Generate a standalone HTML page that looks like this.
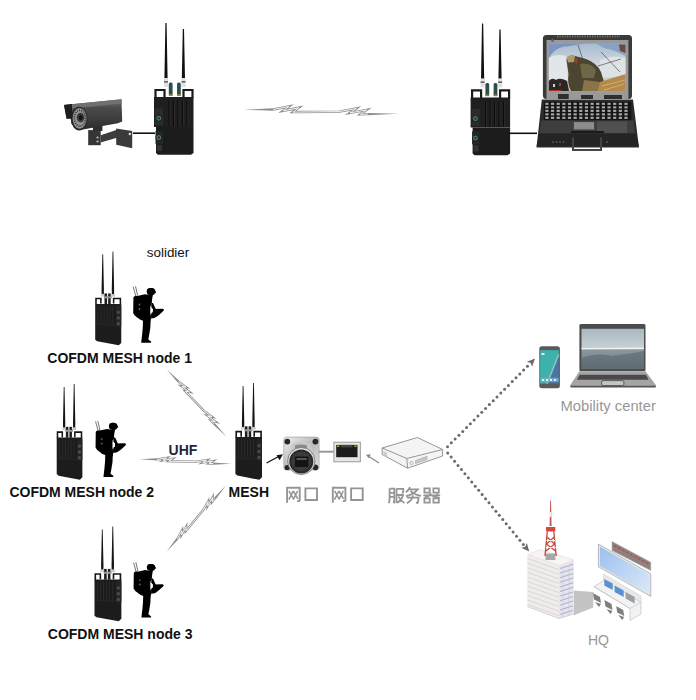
<!DOCTYPE html>
<html><head><meta charset="utf-8">
<style>
html,body{margin:0;padding:0;background:#fff;width:696px;height:700px;overflow:hidden}
svg{display:block}
</style></head><body>
<svg width="696" height="700" viewBox="0 0 696 700">
<rect width="696" height="700" fill="#fff"/>

<defs>
<linearGradient id="camg" x1="0" y1="0" x2="0" y2="1">
<stop offset="0" stop-color="#6e6e6e"/><stop offset="0.3" stop-color="#4a4a4a"/><stop offset="0.7" stop-color="#3a3a3a"/><stop offset="1" stop-color="#2a2a2a"/></linearGradient>
<linearGradient id="flg" x1="0" y1="0" x2="1" y2="1">
<stop offset="0" stop-color="#f2f2f2"/><stop offset="0.5" stop-color="#b8b8b8"/><stop offset="1" stop-color="#e0e0e0"/></linearGradient>
<linearGradient id="skyg" x1="0" y1="0" x2="0" y2="1">
<stop offset="0" stop-color="#a8bcd2"/><stop offset="0.5" stop-color="#d4dade"/><stop offset="1" stop-color="#c8c0a8"/></linearGradient>
<linearGradient id="hqscr" x1="0" y1="0" x2="1" y2="1">
<stop offset="0" stop-color="#9cc0ee"/><stop offset="1" stop-color="#dce8f8"/></linearGradient>
<linearGradient id="lscr" x1="0" y1="0" x2="0" y2="1">
<stop offset="0" stop-color="#a9b9c0"/><stop offset="0.46" stop-color="#c4d0d4"/><stop offset="0.54" stop-color="#8a989e"/><stop offset="1" stop-color="#6a787e"/></linearGradient>
<linearGradient id="phs" x1="0" y1="0" x2="1" y2="1">
<stop offset="0" stop-color="#4fb0a8"/><stop offset="0.5" stop-color="#3f8e9a"/><stop offset="1" stop-color="#3a6a9a"/></linearGradient>
</defs>


<g id="camera">
<path d="M92.9,125 L102.4,124 L102.4,131 L92.9,131 Z" fill="#2e2e2e"/>
<path d="M88.2,130.1 L100.7,130.1 L100.7,145.2 L88.2,145.2 Z" fill="#353535"/>
<path d="M100.7,135.3 L117,129.7 L117,137.8 L100.7,142.6 Z" fill="#3d3d3d"/>
<path d="M116.2,128.4 L132.2,131 L132.2,148.2 L116.2,144.7 Z" fill="#3a3a3a"/>
<circle cx="129.8" cy="134" r="1.2" fill="#e0e0e0"/><circle cx="97.5" cy="137.5" r="1.1" fill="#bbb"/><circle cx="97.5" cy="141.5" r="1.1" fill="#bbb"/>
<path d="M64,104.9 L121.5,99.3 L122.2,121.5 L117.9,123.2 L80,129.9 L71.5,124 L70.7,118.7 L66.6,118.7 Z" fill="url(#camg)"/>
<path d="M64,104.9 L121.5,99.3 L121.8,103.5 L68,109 Z" fill="#707070"/>
<path d="M64,104.9 L72,104 L72,118 L66.6,118.7 Z" fill="#1e1e1e"/>
<ellipse cx="79.2" cy="118.6" rx="8.3" ry="11.9" fill="#242424"/>
<ellipse cx="79.6" cy="118.4" rx="7" ry="10.3" fill="#959595"/>
<ellipse cx="79.9" cy="118.2" rx="5.5" ry="8" fill="none" stroke="#3a3a3a" stroke-width="1.8" stroke-dasharray="1.1 1.1"/>
<ellipse cx="80.5" cy="117.6" rx="3.8" ry="4.8" fill="#3a3a3a"/>
<ellipse cx="80.7" cy="117.5" rx="2" ry="2.6" fill="#141414"/>
</g>
<path d="M133,133.2 L155,133.2" stroke="#111" stroke-width="1.6"/>

<g>
<path d="M165.4,23 L166.6,23 L167.6,79 L164.4,79 Z" fill="#111"/>
<path d="M182.8,29 L184,29 L185,79 L181.8,79 Z" fill="#111"/>
<rect x="164" y="78" width="4" height="9" fill="#e0e0e0"/><rect x="164" y="81" width="4" height="1.6" fill="#666"/>
<rect x="181.5" y="78" width="4" height="9" fill="#e0e0e0"/><rect x="181.5" y="81" width="4" height="1.6" fill="#666"/>
<rect x="168.8" y="82.5" width="3.8" height="13" rx="1.5" fill="#2a5050"/><rect x="168.8" y="94" width="3.8" height="1.8" fill="#8a7a40"/>
<rect x="177" y="82.5" width="3.8" height="13" rx="1.5" fill="#2a5050"/><rect x="177" y="94" width="3.8" height="1.8" fill="#8a7a40"/>
<path d="M155.5,98 L155.5,90 L164.5,90 L164.5,98 M183.5,98 L183.5,90 L192.5,90 L192.5,98" fill="none" stroke="#1a1a1a" stroke-width="2.2"/>
<path d="M154,97 L193.5,97 L193.5,127 L154,127 Z" fill="#1f1f1f"/>
<path d="M156,127 L193.5,127 L193.5,153 L191,154.8 L158,154.8 L156,153 Z" fill="#1c1c1c"/>
<g stroke="#0b0b0b" stroke-width="1.1"><path d="M169,101 V126 M173.5,101 V126 M178,101 V126 M182.5,101 V126 M187,101 V126"/></g>
<g stroke="#3a3a3a" stroke-width="0.5"><path d="M170,101 V126 M174.5,101 V126 M179,101 V126 M183.5,101 V126 M188,101 V126"/></g>
<rect x="155" y="108.5" width="8" height="17" fill="#2c2c2c"/>
<circle cx="158.8" cy="118.2" r="3" fill="#4d7d60" stroke="#161616" stroke-width="0.9"/>
<circle cx="158.8" cy="118.2" r="1.3" fill="#233a2c"/>
<rect x="155.5" y="131" width="7.5" height="13" fill="#262626"/>
<circle cx="158.8" cy="137.6" r="3" fill="#4d7d60" stroke="#161616" stroke-width="0.9"/>
<circle cx="158.8" cy="137.6" r="1.3" fill="#233a2c"/>
<rect x="157" y="145" width="5" height="6" fill="#333"/>
</g>
<g transform="translate(316.6,0.4)">
<path d="M165.4,23 L166.6,23 L167.6,79 L164.4,79 Z" fill="#111"/>
<path d="M182.8,29 L184,29 L185,79 L181.8,79 Z" fill="#111"/>
<rect x="164" y="78" width="4" height="9" fill="#e0e0e0"/><rect x="164" y="81" width="4" height="1.6" fill="#666"/>
<rect x="181.5" y="78" width="4" height="9" fill="#e0e0e0"/><rect x="181.5" y="81" width="4" height="1.6" fill="#666"/>
<rect x="168.8" y="82.5" width="3.8" height="13" rx="1.5" fill="#2a5050"/><rect x="168.8" y="94" width="3.8" height="1.8" fill="#8a7a40"/>
<rect x="177" y="82.5" width="3.8" height="13" rx="1.5" fill="#2a5050"/><rect x="177" y="94" width="3.8" height="1.8" fill="#8a7a40"/>
<path d="M155.5,98 L155.5,90 L164.5,90 L164.5,98 M183.5,98 L183.5,90 L192.5,90 L192.5,98" fill="none" stroke="#1a1a1a" stroke-width="2.2"/>
<path d="M154,97 L193.5,97 L193.5,127 L154,127 Z" fill="#1f1f1f"/>
<path d="M156,127 L193.5,127 L193.5,153 L191,154.8 L158,154.8 L156,153 Z" fill="#1c1c1c"/>
<g stroke="#0b0b0b" stroke-width="1.1"><path d="M169,101 V126 M173.5,101 V126 M178,101 V126 M182.5,101 V126 M187,101 V126"/></g>
<g stroke="#3a3a3a" stroke-width="0.5"><path d="M170,101 V126 M174.5,101 V126 M179,101 V126 M183.5,101 V126 M188,101 V126"/></g>
<rect x="155" y="108.5" width="8" height="17" fill="#2c2c2c"/>
<circle cx="158.8" cy="118.2" r="3" fill="#4d7d60" stroke="#161616" stroke-width="0.9"/>
<circle cx="158.8" cy="118.2" r="1.3" fill="#233a2c"/>
<rect x="155.5" y="131" width="7.5" height="13" fill="#262626"/>
<circle cx="158.8" cy="137.6" r="3" fill="#4d7d60" stroke="#161616" stroke-width="0.9"/>
<circle cx="158.8" cy="137.6" r="1.3" fill="#233a2c"/>
<rect x="157" y="145" width="5" height="6" fill="#333"/>
</g>
<path d="M244.00,109.80 L273.27,108.27 L273.30,110.67 Z M398.22,113.80 L367.37,112.95 L367.40,115.35 Z" fill="#8c8c8c"/><path d="M273.29,109.47 L288.98,106.41 L283.13,110.79 L298.82,107.73 L292.98,112.12 L299.53,112.05 L339.61,111.59 L356.22,108.52 L350.03,112.91 L366.64,109.84 L360.45,114.23 L367.39,114.15" fill="none" stroke="#8c8c8c" stroke-width="2.4" stroke-linejoin="miter" stroke-miterlimit="6"/><path d="M273.29,109.47 L288.98,106.41 L283.13,110.79 L298.82,107.73 L292.98,112.12 L299.53,112.05 L339.61,111.59 L356.22,108.52 L350.03,112.91 L366.64,109.84 L360.45,114.23 L367.39,114.15" fill="none" stroke="#fff" stroke-width="0.9" stroke-linejoin="miter" stroke-miterlimit="6"/>

<path d="M509,133.3 L537,133.3" stroke="#111" stroke-width="1.6"/>
<g id="laptop">
<path d="M541.8,99.5 L633,99.5 L639,147.5 L536.5,147.5 Z" fill="#2c2c2c"/>
<rect x="543.8" y="101.8" width="87.5" height="18.6" fill="#151515"/>
<g fill="#a8a8a8"><rect x="545.30" y="102.80" width="3.2" height="2.1"/><rect x="550.95" y="102.80" width="3.2" height="2.1"/><rect x="556.60" y="102.80" width="3.2" height="2.1"/><rect x="562.25" y="102.80" width="3.2" height="2.1"/><rect x="567.90" y="102.80" width="3.2" height="2.1"/><rect x="573.55" y="102.80" width="3.2" height="2.1"/><rect x="579.20" y="102.80" width="3.2" height="2.1"/><rect x="584.85" y="102.80" width="3.2" height="2.1"/><rect x="590.50" y="102.80" width="3.2" height="2.1"/><rect x="596.15" y="102.80" width="3.2" height="2.1"/><rect x="601.80" y="102.80" width="3.2" height="2.1"/><rect x="607.45" y="102.80" width="3.2" height="2.1"/><rect x="613.10" y="102.80" width="3.2" height="2.1"/><rect x="618.75" y="102.80" width="3.2" height="2.1"/><rect x="624.40" y="102.80" width="3.2" height="2.1"/><rect x="545.30" y="106.30" width="3.2" height="2.1"/><rect x="550.95" y="106.30" width="3.2" height="2.1"/><rect x="556.60" y="106.30" width="3.2" height="2.1"/><rect x="562.25" y="106.30" width="3.2" height="2.1"/><rect x="567.90" y="106.30" width="3.2" height="2.1"/><rect x="573.55" y="106.30" width="3.2" height="2.1"/><rect x="579.20" y="106.30" width="3.2" height="2.1"/><rect x="584.85" y="106.30" width="3.2" height="2.1"/><rect x="590.50" y="106.30" width="3.2" height="2.1"/><rect x="596.15" y="106.30" width="3.2" height="2.1"/><rect x="601.80" y="106.30" width="3.2" height="2.1"/><rect x="607.45" y="106.30" width="3.2" height="2.1"/><rect x="613.10" y="106.30" width="3.2" height="2.1"/><rect x="618.75" y="106.30" width="3.2" height="2.1"/><rect x="624.40" y="106.30" width="3.2" height="2.1"/><rect x="545.30" y="109.80" width="3.2" height="2.1"/><rect x="550.95" y="109.80" width="3.2" height="2.1"/><rect x="556.60" y="109.80" width="3.2" height="2.1"/><rect x="562.25" y="109.80" width="3.2" height="2.1"/><rect x="567.90" y="109.80" width="3.2" height="2.1"/><rect x="573.55" y="109.80" width="3.2" height="2.1"/><rect x="579.20" y="109.80" width="3.2" height="2.1"/><rect x="584.85" y="109.80" width="3.2" height="2.1"/><rect x="590.50" y="109.80" width="3.2" height="2.1"/><rect x="596.15" y="109.80" width="3.2" height="2.1"/><rect x="601.80" y="109.80" width="3.2" height="2.1"/><rect x="607.45" y="109.80" width="3.2" height="2.1"/><rect x="613.10" y="109.80" width="3.2" height="2.1"/><rect x="618.75" y="109.80" width="3.2" height="2.1"/><rect x="624.40" y="109.80" width="3.2" height="2.1"/><rect x="545.30" y="113.30" width="3.2" height="2.1"/><rect x="550.95" y="113.30" width="3.2" height="2.1"/><rect x="556.60" y="113.30" width="3.2" height="2.1"/><rect x="562.25" y="113.30" width="3.2" height="2.1"/><rect x="567.90" y="113.30" width="3.2" height="2.1"/><rect x="573.55" y="113.30" width="3.2" height="2.1"/><rect x="579.20" y="113.30" width="3.2" height="2.1"/><rect x="584.85" y="113.30" width="3.2" height="2.1"/><rect x="590.50" y="113.30" width="3.2" height="2.1"/><rect x="596.15" y="113.30" width="3.2" height="2.1"/><rect x="601.80" y="113.30" width="3.2" height="2.1"/><rect x="607.45" y="113.30" width="3.2" height="2.1"/><rect x="613.10" y="113.30" width="3.2" height="2.1"/><rect x="618.75" y="113.30" width="3.2" height="2.1"/><rect x="624.40" y="113.30" width="3.2" height="2.1"/><rect x="545.30" y="116.80" width="3.2" height="2.1"/><rect x="550.95" y="116.80" width="3.2" height="2.1"/><rect x="556.60" y="116.80" width="3.2" height="2.1"/><rect x="562.25" y="116.80" width="3.2" height="2.1"/><rect x="567.90" y="116.80" width="3.2" height="2.1"/><rect x="573.55" y="116.80" width="3.2" height="2.1"/><rect x="579.20" y="116.80" width="3.2" height="2.1"/><rect x="584.85" y="116.80" width="3.2" height="2.1"/><rect x="590.50" y="116.80" width="3.2" height="2.1"/><rect x="596.15" y="116.80" width="3.2" height="2.1"/><rect x="601.80" y="116.80" width="3.2" height="2.1"/><rect x="607.45" y="116.80" width="3.2" height="2.1"/><rect x="613.10" y="116.80" width="3.2" height="2.1"/><rect x="618.75" y="116.80" width="3.2" height="2.1"/><rect x="624.40" y="116.80" width="3.2" height="2.1"/></g>
<path d="M541.5,120.6 L633.5,120.6 L635,133.5 L539.5,133.5 Z" fill="#3e3e3e"/>
<rect x="597" y="121.5" width="30" height="11.5" fill="#505050"/>
<rect x="573.9" y="122.1" width="20.2" height="7.3" fill="#8c8c8c"/>
<rect x="571" y="131" width="33" height="2" fill="#1a1a1a"/>
<path d="M539.5,133.5 L635,133.5 L639,146.3 L536.5,146.3 Z" fill="#242424"/>
<path d="M573,137.5 L573,150 L601,150 L601,137.5" fill="none" stroke="#444" stroke-width="2"/>
<g fill="#777"><circle cx="553" cy="142" r="0.8"/><circle cx="556.5" cy="142" r="0.8"/><circle cx="560" cy="142" r="0.8"/><circle cx="563.5" cy="142" r="0.8"/><circle cx="607" cy="142" r="0.8"/></g>
<rect x="542.9" y="35" width="89.1" height="64" rx="3.5" fill="#3a3a3a"/>
<rect x="546.5" y="40" width="81.9" height="59" fill="#999"/>
<path d="M557,36.5 L620,36.5" stroke="#777" stroke-width="2" stroke-dasharray="1.2 1.3"/>
<circle cx="552.5" cy="40.5" r="1.5" fill="#666"/>
<rect x="548.9" y="43.6" width="76.6" height="47.5" fill="url(#skyg)"/>
<path d="M548.9,43.6 L585,43.6 Q572,46 562,47 Q553,50 548.9,58 Z" fill="#7896c0"/>
<path d="M596,43.6 L625.5,43.6 L625.5,56 Q615,50 604,48 Z" fill="#86a2c6"/>
<path d="M548.9,58 Q556,53 566,56 L568,80 L548.9,80 Z" fill="#e2e6e8"/>
<path d="M600,60 Q612,54 625.5,58 L625.5,76 L600,78 Z" fill="#dde2e5"/>
<path d="M566.5,60 Q568,55 573,55.5 Q580,57 586,59 Q597,63 601,72 L604,82 L603,91.1 L571,91.1 Q567,84 568.5,74 Z" fill="#4c4532"/>
<path d="M566.8,57.5 Q570,54 575,56 L574,62 L568,62.5 Z" fill="#b09a6c"/>
<path d="M574,60 L578,58 L577,64 Z" fill="#a04030"/>
<path d="M580,64 Q590,62 596,70 L594,78 L582,78 Z" fill="#6e6644"/>
<path d="M584,80 L600,82 L600,91.1 L582,91.1 Z" fill="#8a7448"/>
<path d="M548.9,81 Q552,77 556,80 Q560,77 567,81 L569,91.1 L548.9,91.1 Z" fill="#2a2826"/>
<rect x="553" y="84" width="2" height="3" fill="#d8d0c0"/><rect x="559" y="83" width="2" height="3" fill="#a84030"/>
<path d="M600,82 L625.5,74 L625.5,91.1 L598,91.1 Z" fill="#b48a4a"/>
<path d="M602,86 L625,80 M604,90 L624,84" stroke="#d8b878" stroke-width="0.8"/>
<path d="M601,52 L620,72 M598,66 L621,59 M578,45 L583,60" stroke="#3a3a3a" stroke-width="0.6"/>
<path d="M619,44.5 L625.5,44.5 L625.5,53 L620,51 Z" fill="#6a4a3a"/>
<rect x="548.9" y="90" width="12" height="1.1" fill="#b03030"/>
<rect x="558" y="94" width="10.7" height="5" fill="#2e2e2e"/><rect x="581" y="95" width="12" height="4" fill="#2e2e2e"/><rect x="604" y="95" width="18" height="4" fill="#2e2e2e"/>
</g>


<g font-family="Liberation Sans, sans-serif">
<text x="146.8" y="257.4" font-size="13.4" fill="#111">solidier</text>
<text font-weight="bold" x="47.3" y="363.3" font-size="14" fill="#111">COFDM MESH node 1</text>
<text font-weight="bold" x="9.4" y="497.4" font-size="14" fill="#111">COFDM MESH node 2</text>
<text font-weight="bold" x="47.8" y="639.2" font-size="14" fill="#111">COFDM MESH node 3</text>
<text font-weight="bold" x="168.6" y="455" font-size="14" fill="#25253a">UHF</text>
<text font-weight="bold" x="228.6" y="497" font-size="14" fill="#111">MESH</text>
<text x="560.5" y="410.6" font-size="14.8" fill="#979797">Mobility center</text>
<text x="588" y="644.6" font-size="14" fill="#979797">HQ</text>
</g>

<g transform="translate(95.2,297.8) scale(0.98,0.97)">
<path d="M7.3,-44.8 L8.1,-44.8 L8.9,-8 L8.8,-3.5 L6.6,-3.5 L6.5,-8 Z" fill="#151515"/>
<path d="M17.7,-47.8 L18.5,-47.8 L19.3,-8 L19.2,-3.5 L17,-3.5 L16.9,-8 Z" fill="#151515"/>
<rect x="5.8" y="-3.8" width="4" height="2.6" fill="#d0d0d0"/>
<rect x="16.2" y="-3.8" width="4" height="2.6" fill="#c8c8c8"/>
<rect x="9.5" y="-4.5" width="2.6" height="11" fill="#1e1e1e"/>
<rect x="13.2" y="-4.5" width="2.6" height="11" fill="#1e1e1e"/>
<rect x="9" y="-1.5" width="8" height="2" fill="#9a9a9a"/>
<path d="M0.8,7 L0.8,0.8 L5.8,0.8 L5.8,6 M18.8,6 L18.8,0.8 L25.7,0.8 L25.7,7" fill="none" stroke="#161616" stroke-width="1.6"/>
<path d="M0,6.3 L26.6,6.3 L26.6,46.5 L24,49 L2,44.8 L0,43.2 Z" fill="#1c1c1c"/>
<rect x="21.2" y="8" width="5.4" height="21" fill="#242424"/>
<circle cx="23.6" cy="15" r="1.8" fill="#4a4a4a"/><circle cx="23.6" cy="20.8" r="1.8" fill="#4a4a4a"/><circle cx="23.6" cy="26.8" r="1.8" fill="#4a4a4a"/>
<g stroke="#303030" stroke-width="0.7"><path d="M3,9 V27 M6,9 V27 M9,9 V27 M12,9 V27 M15,9 V27 M18,9 V27"/></g>
<path d="M0.2,27.5 L21,28.5 L26.6,30.5" fill="none" stroke="#2e2e2e" stroke-width="0.6"/>
</g>
<g transform="translate(56.7,431.3) scale(0.965,0.99)">
<path d="M7.3,-44.8 L8.1,-44.8 L8.9,-8 L8.8,-3.5 L6.6,-3.5 L6.5,-8 Z" fill="#151515"/>
<path d="M17.7,-47.8 L18.5,-47.8 L19.3,-8 L19.2,-3.5 L17,-3.5 L16.9,-8 Z" fill="#151515"/>
<rect x="5.8" y="-3.8" width="4" height="2.6" fill="#d0d0d0"/>
<rect x="16.2" y="-3.8" width="4" height="2.6" fill="#c8c8c8"/>
<rect x="9.5" y="-4.5" width="2.6" height="11" fill="#1e1e1e"/>
<rect x="13.2" y="-4.5" width="2.6" height="11" fill="#1e1e1e"/>
<rect x="9" y="-1.5" width="8" height="2" fill="#9a9a9a"/>
<path d="M0.8,7 L0.8,0.8 L5.8,0.8 L5.8,6 M18.8,6 L18.8,0.8 L25.7,0.8 L25.7,7" fill="none" stroke="#161616" stroke-width="1.6"/>
<path d="M0,6.3 L26.6,6.3 L26.6,46.5 L24,49 L2,44.8 L0,43.2 Z" fill="#1c1c1c"/>
<rect x="21.2" y="8" width="5.4" height="21" fill="#242424"/>
<circle cx="23.6" cy="15" r="1.8" fill="#4a4a4a"/><circle cx="23.6" cy="20.8" r="1.8" fill="#4a4a4a"/><circle cx="23.6" cy="26.8" r="1.8" fill="#4a4a4a"/>
<g stroke="#303030" stroke-width="0.7"><path d="M3,9 V27 M6,9 V27 M9,9 V27 M12,9 V27 M15,9 V27 M18,9 V27"/></g>
<path d="M0.2,27.5 L21,28.5 L26.6,30.5" fill="none" stroke="#2e2e2e" stroke-width="0.6"/>
</g>
<g transform="translate(235.4,430.8) scale(1.0,1.0)">
<path d="M7.3,-44.8 L8.1,-44.8 L8.9,-8 L8.8,-3.5 L6.6,-3.5 L6.5,-8 Z" fill="#151515"/>
<path d="M17.7,-47.8 L18.5,-47.8 L19.3,-8 L19.2,-3.5 L17,-3.5 L16.9,-8 Z" fill="#151515"/>
<rect x="5.8" y="-3.8" width="4" height="2.6" fill="#d0d0d0"/>
<rect x="16.2" y="-3.8" width="4" height="2.6" fill="#c8c8c8"/>
<rect x="9.5" y="-4.5" width="2.6" height="11" fill="#1e1e1e"/>
<rect x="13.2" y="-4.5" width="2.6" height="11" fill="#1e1e1e"/>
<rect x="9" y="-1.5" width="8" height="2" fill="#9a9a9a"/>
<path d="M0.8,7 L0.8,0.8 L5.8,0.8 L5.8,6 M18.8,6 L18.8,0.8 L25.7,0.8 L25.7,7" fill="none" stroke="#161616" stroke-width="1.6"/>
<path d="M0,6.3 L26.6,6.3 L26.6,46.5 L24,49 L2,44.8 L0,43.2 Z" fill="#1c1c1c"/>
<rect x="21.2" y="8" width="5.4" height="21" fill="#242424"/>
<circle cx="23.6" cy="15" r="1.8" fill="#4a4a4a"/><circle cx="23.6" cy="20.8" r="1.8" fill="#4a4a4a"/><circle cx="23.6" cy="26.8" r="1.8" fill="#4a4a4a"/>
<g stroke="#303030" stroke-width="0.7"><path d="M3,9 V27 M6,9 V27 M9,9 V27 M12,9 V27 M15,9 V27 M18,9 V27"/></g>
<path d="M0.2,27.5 L21,28.5 L26.6,30.5" fill="none" stroke="#2e2e2e" stroke-width="0.6"/>
</g>
<g transform="translate(94.5,573.3) scale(1.01,0.98)">
<path d="M7.3,-44.8 L8.1,-44.8 L8.9,-8 L8.8,-3.5 L6.6,-3.5 L6.5,-8 Z" fill="#151515"/>
<path d="M17.7,-47.8 L18.5,-47.8 L19.3,-8 L19.2,-3.5 L17,-3.5 L16.9,-8 Z" fill="#151515"/>
<rect x="5.8" y="-3.8" width="4" height="2.6" fill="#d0d0d0"/>
<rect x="16.2" y="-3.8" width="4" height="2.6" fill="#c8c8c8"/>
<rect x="9.5" y="-4.5" width="2.6" height="11" fill="#1e1e1e"/>
<rect x="13.2" y="-4.5" width="2.6" height="11" fill="#1e1e1e"/>
<rect x="9" y="-1.5" width="8" height="2" fill="#9a9a9a"/>
<path d="M0.8,7 L0.8,0.8 L5.8,0.8 L5.8,6 M18.8,6 L18.8,0.8 L25.7,0.8 L25.7,7" fill="none" stroke="#161616" stroke-width="1.6"/>
<path d="M0,6.3 L26.6,6.3 L26.6,46.5 L24,49 L2,44.8 L0,43.2 Z" fill="#1c1c1c"/>
<rect x="21.2" y="8" width="5.4" height="21" fill="#242424"/>
<circle cx="23.6" cy="15" r="1.8" fill="#4a4a4a"/><circle cx="23.6" cy="20.8" r="1.8" fill="#4a4a4a"/><circle cx="23.6" cy="26.8" r="1.8" fill="#4a4a4a"/>
<g stroke="#303030" stroke-width="0.7"><path d="M3,9 V27 M6,9 V27 M9,9 V27 M12,9 V27 M15,9 V27 M18,9 V27"/></g>
<path d="M0.2,27.5 L21,28.5 L26.6,30.5" fill="none" stroke="#2e2e2e" stroke-width="0.6"/>
</g>
<g transform="translate(128,282) scale(1.0)">
<path d="M5.2,4.7 L7.8,14.2 M7.5,4.2 L9.6,13.4" stroke="#6e6e6e" stroke-width="0.95" fill="none"/>
<path d="M5.4,15.5 Q5.6,14 7.5,13.9 L10.4,13.7 L17,12.3 L20,12.8 L25,12.8 L24.2,16.5 L23.6,22.6 L22.4,24 L22.3,31 L22.6,33 L24,35.5 L22.6,39.6 L22.3,46 L21.2,52.8 L20.3,57.5 L23.1,59.6 L23.1,60.8 L13.2,60.8 L13.6,57 L14.2,52 L14.8,45 L15,38.7 L12,37.5 L10.4,36.3 Q6,33.5 5.2,31 Z" fill="#000"/>
<ellipse cx="23" cy="9.7" rx="4.3" ry="3.6" fill="#000"/>
<path d="M19,7.2 Q22.5,5.2 26,6.8 L28.3,10.8 L24,11.2 Z" fill="#000"/>
<path d="M23.6,21 L25,21 L28.2,28 L26.5,29.5 L23.2,25 Z" fill="#000"/>
<path d="M25.2,27 L34.9,26.7 Q36.3,27.3 35.8,28.6 L31,33 L27.4,35.6 L24.5,36.5 L22.6,33.5 Z" fill="#000"/>
<path d="M22.7,25 L24.6,27 L25,30.3 L22.8,30.8 Z" fill="#fff" opacity="0.9"/>
<path d="M22.9,36.4 L25,37 L24.4,39.6 L22.8,39.3 Z" fill="#fff" opacity="0.85"/>
<circle cx="11.5" cy="22.5" r="0.9" fill="#666"/><circle cx="11.5" cy="27" r="0.9" fill="#666"/>
</g>
<g transform="translate(90.4,416.8) scale(0.99)">
<path d="M5.2,4.7 L7.8,14.2 M7.5,4.2 L9.6,13.4" stroke="#6e6e6e" stroke-width="0.95" fill="none"/>
<path d="M5.4,15.5 Q5.6,14 7.5,13.9 L10.4,13.7 L17,12.3 L20,12.8 L25,12.8 L24.2,16.5 L23.6,22.6 L22.4,24 L22.3,31 L22.6,33 L24,35.5 L22.6,39.6 L22.3,46 L21.2,52.8 L20.3,57.5 L23.1,59.6 L23.1,60.8 L13.2,60.8 L13.6,57 L14.2,52 L14.8,45 L15,38.7 L12,37.5 L10.4,36.3 Q6,33.5 5.2,31 Z" fill="#000"/>
<ellipse cx="23" cy="9.7" rx="4.3" ry="3.6" fill="#000"/>
<path d="M19,7.2 Q22.5,5.2 26,6.8 L28.3,10.8 L24,11.2 Z" fill="#000"/>
<path d="M23.6,21 L25,21 L28.2,28 L26.5,29.5 L23.2,25 Z" fill="#000"/>
<path d="M25.2,27 L34.9,26.7 Q36.3,27.3 35.8,28.6 L31,33 L27.4,35.6 L24.5,36.5 L22.6,33.5 Z" fill="#000"/>
<path d="M22.7,25 L24.6,27 L25,30.3 L22.8,30.8 Z" fill="#fff" opacity="0.9"/>
<path d="M22.9,36.4 L25,37 L24.4,39.6 L22.8,39.3 Z" fill="#fff" opacity="0.85"/>
<circle cx="11.5" cy="22.5" r="0.9" fill="#666"/><circle cx="11.5" cy="27" r="0.9" fill="#666"/>
</g>
<g transform="translate(128.5,558) scale(0.98)">
<path d="M5.2,4.7 L7.8,14.2 M7.5,4.2 L9.6,13.4" stroke="#6e6e6e" stroke-width="0.95" fill="none"/>
<path d="M5.4,15.5 Q5.6,14 7.5,13.9 L10.4,13.7 L17,12.3 L20,12.8 L25,12.8 L24.2,16.5 L23.6,22.6 L22.4,24 L22.3,31 L22.6,33 L24,35.5 L22.6,39.6 L22.3,46 L21.2,52.8 L20.3,57.5 L23.1,59.6 L23.1,60.8 L13.2,60.8 L13.6,57 L14.2,52 L14.8,45 L15,38.7 L12,37.5 L10.4,36.3 Q6,33.5 5.2,31 Z" fill="#000"/>
<ellipse cx="23" cy="9.7" rx="4.3" ry="3.6" fill="#000"/>
<path d="M19,7.2 Q22.5,5.2 26,6.8 L28.3,10.8 L24,11.2 Z" fill="#000"/>
<path d="M23.6,21 L25,21 L28.2,28 L26.5,29.5 L23.2,25 Z" fill="#000"/>
<path d="M25.2,27 L34.9,26.7 Q36.3,27.3 35.8,28.6 L31,33 L27.4,35.6 L24.5,36.5 L22.6,33.5 Z" fill="#000"/>
<path d="M22.7,25 L24.6,27 L25,30.3 L22.8,30.8 Z" fill="#fff" opacity="0.9"/>
<path d="M22.9,36.4 L25,37 L24.4,39.6 L22.8,39.3 Z" fill="#fff" opacity="0.85"/>
<circle cx="11.5" cy="22.5" r="0.9" fill="#666"/><circle cx="11.5" cy="27" r="0.9" fill="#666"/>
</g>
<path d="M166.70,369.30 L179.30,380.92 L177.71,382.44 Z M226.38,436.79 L214.76,423.00 L213.17,424.52 Z" fill="#8c8c8c"/><path d="M178.50,381.68 L186.05,387.17 L181.85,386.42 L189.41,391.91 L185.21,391.15 L187.85,393.92 L204.00,410.87 L211.92,416.75 L207.58,415.85 L215.51,421.73 L211.17,420.82 L213.96,423.76" fill="none" stroke="#8c8c8c" stroke-width="2.2" stroke-linejoin="miter" stroke-miterlimit="6"/><path d="M178.50,381.68 L186.05,387.17 L181.85,386.42 L189.41,391.91 L185.21,391.15 L187.85,393.92 L204.00,410.87 L211.92,416.75 L207.58,415.85 L215.51,421.73 L211.17,420.82 L213.96,423.76" fill="none" stroke="#fff" stroke-width="0.9" stroke-linejoin="miter" stroke-miterlimit="6"/>
<path d="M139.70,459.20 L157.15,458.34 L157.12,460.54 Z M231.42,463.80 L213.08,462.46 L213.05,464.65 Z" fill="#8c8c8c"/><path d="M157.14,459.44 L166.52,457.88 L162.97,460.36 L172.36,458.80 L168.81,461.27 L172.71,461.33 L196.57,461.65 L206.51,460.11 L202.76,462.58 L212.69,461.03 L208.94,463.50 L213.07,463.56" fill="none" stroke="#8c8c8c" stroke-width="2.2" stroke-linejoin="miter" stroke-miterlimit="6"/><path d="M157.14,459.44 L166.52,457.88 L162.97,460.36 L172.36,458.80 L168.81,461.27 L172.71,461.33 L196.57,461.65 L206.51,460.11 L202.76,462.58 L212.69,461.03 L208.94,463.50 L213.07,463.56" fill="none" stroke="#fff" stroke-width="0.9" stroke-linejoin="miter" stroke-miterlimit="6"/>
<path d="M166.50,551.80 L176.50,537.98 L178.20,539.38 Z M226.18,484.90 L213.92,498.01 L215.61,499.41 Z" fill="#8c8c8c"/><path d="M177.35,538.68 L181.88,530.57 L181.63,534.82 L186.16,526.70 L185.92,530.95 L188.35,528.02 L203.19,510.07 L208.06,501.54 L207.69,505.94 L212.56,497.42 L212.19,501.82 L214.76,498.71" fill="none" stroke="#8c8c8c" stroke-width="2.2" stroke-linejoin="miter" stroke-miterlimit="6"/><path d="M177.35,538.68 L181.88,530.57 L181.63,534.82 L186.16,526.70 L185.92,530.95 L188.35,528.02 L203.19,510.07 L208.06,501.54 L207.69,505.94 L212.56,497.42 L212.19,501.82 L214.76,498.71" fill="none" stroke="#fff" stroke-width="0.9" stroke-linejoin="miter" stroke-miterlimit="6"/>

<path d="M266.6,463 L280,455.8" stroke="#111" stroke-width="1.3"/>
<path d="M283,454.3 L276.5,455.2 L279.6,460.2 Z" fill="#111"/>
<path d="M379,463 L368.5,456.3" stroke="#888" stroke-width="1.1"/>
<path d="M366,454.8 L370.8,454.2 L368.6,458.2 Z" fill="#888"/>


<rect x="283.8" y="437.1" width="35.3" height="33" rx="2.5" fill="url(#flg)" stroke="#a0a0a0" stroke-width="0.7"/>
<circle cx="287.3" cy="441.6" r="2.9" fill="#262626"/><circle cx="315.4" cy="441.6" r="2.9" fill="#262626"/>
<circle cx="315.4" cy="467.3" r="2.9" fill="#262626"/><circle cx="287.2" cy="467.5" r="2.6" fill="#262626"/>
<path d="M292,444 Q301,440 311,444 L312,452 L291,452 Z" fill="#c8c8c8"/>
<path d="M295,445.5 Q301,443.5 307,445.5 L307,449 L295,449 Z" fill="#8a8a8a"/>
<circle cx="301.3" cy="461" r="13.6" fill="#e2e2e2" stroke="#777" stroke-width="0.9"/>
<circle cx="301.3" cy="461.4" r="12" fill="#2a2a2a"/>
<circle cx="301.3" cy="461.4" r="10" fill="#3a3a3a"/>
<rect x="294.8" y="456.5" width="13.6" height="10.4" rx="1" fill="#141414"/>
<rect x="296.5" y="458" width="10.2" height="2" fill="#555"/>
<path d="M319,451.7 L334,451.7" stroke="#9a9a9a" stroke-width="2"/>
<rect x="333.9" y="442.3" width="26.5" height="19.4" fill="#e6e6e6" stroke="#a8a8a8" stroke-width="1.2"/>
<rect x="336.2" y="444.9" width="21.3" height="12.3" fill="#1c1c1c"/>
<rect x="341" y="444.9" width="11.6" height="2.5" fill="#454545"/>
<rect x="337" y="445.5" width="2.4" height="1.4" fill="#8ac23c"/><rect x="354.3" y="445.5" width="2.4" height="1.4" fill="#8ac23c"/>


<path d="M382.2,448 L417.4,437.5 L442.6,449.5 L442.6,456 L407.6,468.2 L382.2,454.5 Z" fill="#f4f4f4" stroke="#8a8a8a" stroke-width="0.9" stroke-linejoin="round"/>
<path d="M382.2,448 L406.8,458.5 L442.6,449.5 M406.8,458.5 L407.6,468.2" fill="none" stroke="#8a8a8a" stroke-width="0.9"/>
<path d="M383.5,451 L387,452.8 L387,457 L383.5,455 Z" fill="#ccc"/>
<circle cx="411.5" cy="463" r="1.6" fill="none" stroke="#999" stroke-width="0.7"/>
<path d="M415.5,460.5 L427,456.3 L427,459.6 L415.5,463.6 Z" fill="#c8c8c8" stroke="#999" stroke-width="0.5"/>

<g fill="#6a6a6a"><circle cx="447.50" cy="446.70" r="1.5"/><circle cx="451.31" cy="442.87" r="1.5"/><circle cx="455.11" cy="439.04" r="1.5"/><circle cx="458.92" cy="435.21" r="1.5"/><circle cx="462.73" cy="431.38" r="1.5"/><circle cx="466.54" cy="427.55" r="1.5"/><circle cx="470.34" cy="423.72" r="1.5"/><circle cx="474.15" cy="419.90" r="1.5"/><circle cx="477.96" cy="416.07" r="1.5"/><circle cx="481.77" cy="412.24" r="1.5"/><circle cx="485.57" cy="408.41" r="1.5"/><circle cx="489.38" cy="404.58" r="1.5"/><circle cx="493.19" cy="400.75" r="1.5"/><circle cx="497.00" cy="396.92" r="1.5"/><circle cx="500.80" cy="393.09" r="1.5"/><circle cx="504.61" cy="389.26" r="1.5"/><circle cx="508.42" cy="385.43" r="1.5"/><circle cx="512.23" cy="381.60" r="1.5"/><circle cx="516.03" cy="377.77" r="1.5"/><circle cx="519.84" cy="373.94" r="1.5"/><circle cx="523.65" cy="370.12" r="1.5"/><circle cx="527.46" cy="366.29" r="1.5"/><path d="M535.10,358.60 L532.01,366.81 L530.73,363.00 L526.91,361.73 Z"/></g>
<g fill="#6a6a6a"><circle cx="447.70" cy="452.90" r="1.5"/><circle cx="451.14" cy="457.06" r="1.5"/><circle cx="454.58" cy="461.22" r="1.5"/><circle cx="458.02" cy="465.39" r="1.5"/><circle cx="461.46" cy="469.55" r="1.5"/><circle cx="464.90" cy="473.71" r="1.5"/><circle cx="468.34" cy="477.87" r="1.5"/><circle cx="471.78" cy="482.04" r="1.5"/><circle cx="475.22" cy="486.20" r="1.5"/><circle cx="478.66" cy="490.36" r="1.5"/><circle cx="482.10" cy="494.52" r="1.5"/><circle cx="485.54" cy="498.68" r="1.5"/><circle cx="488.98" cy="502.85" r="1.5"/><circle cx="492.42" cy="507.01" r="1.5"/><circle cx="495.87" cy="511.17" r="1.5"/><circle cx="499.31" cy="515.33" r="1.5"/><circle cx="502.75" cy="519.50" r="1.5"/><circle cx="506.19" cy="523.66" r="1.5"/><circle cx="509.63" cy="527.82" r="1.5"/><circle cx="513.07" cy="531.98" r="1.5"/><circle cx="516.51" cy="536.14" r="1.5"/><circle cx="519.95" cy="540.31" r="1.5"/><circle cx="523.39" cy="544.47" r="1.5"/><path d="M529.20,551.50 L521.33,547.63 L525.25,546.72 L526.88,543.04 Z"/></g>

<rect x="539.3" y="346.3" width="20.6" height="42" rx="2.5" fill="#5a5a5a"/>
<rect x="540.2" y="350.2" width="18.5" height="33.4" fill="#4a76a6"/>
<path d="M540.2,350.2 L558.7,350.2 L558.7,354 L546.5,383.6 L540.2,383.6 Z" fill="#3cb2aa"/>
<path d="M558.7,354.5 L547,383.6" stroke="#86c8b8" stroke-width="1.6"/>
<rect x="540.4" y="377.8" width="18.2" height="4" fill="#7ab0c8" opacity="0.8"/>
<g fill="#eee"><rect x="542" y="379" width="2" height="2"/><rect x="546" y="379" width="2" height="2"/><rect x="550" y="379" width="2" height="2"/><rect x="554" y="379" width="2" height="2"/></g>
<rect x="541.5" y="353" width="3" height="2" fill="#eee"/>
<rect x="579.4" y="324" width="66.1" height="47.2" rx="1.5" fill="#4c4c4c"/>
<rect x="581.5" y="328.8" width="62.5" height="40.2" fill="url(#lscr)"/>
<path d="M581.5,348.6 L644,348.2" stroke="#f4f4f4" stroke-width="1.4"/>
<path d="M581.5,358 Q598,352 612,356 Q628,354 644,351 L644,369 L581.5,369 Z" fill="#55636a" opacity="0.55"/>
<path d="M579.4,371.2 L645.5,371.2 L656.2,385.5 L570,385.5 Z" fill="#a4a4a4"/>
<path d="M579.6,374.8 L646,374.8 L648.6,379.8 L577,379.8 Z" fill="#4a4a4a"/>
<path d="M570,385.5 L656.2,385.5 L655.5,387.6 L570.8,387.6 Z" fill="#555"/>
<rect x="601.6" y="380.6" width="22.3" height="5" rx="1.5" fill="#c4c4c4" stroke="#444" stroke-width="0.8"/>


<path d="M573.9,590.6 L593.3,591.9 L593.3,607.4 L573.9,615.2 Z" fill="#c4c4c4"/>
<path d="M527.4,554.4 L559,565.6 L559,618.5 L527.4,606.5 Z" fill="#f1ecec"/>
<g stroke="#d6d0d0" stroke-width="0.8" fill="none"><path d="M527.4,558.5 L559,569.7 M527.4,563.1 L559,574.3 M527.4,567.7 L559,578.9 M527.4,572.3 L559,583.5 M527.4,576.9 L559,588.1 M527.4,581.5 L559,592.7 M527.4,586.1 L559,597.3 M527.4,590.7 L559,601.9 M527.4,595.3 L559,606.5 M527.4,599.9 L559,611.1 M527.4,604.5 L559,615.7"/></g>
<path d="M559,565.6 L573.9,560 L573.9,613.9 L559,618.5 Z" fill="#e6e6ee"/>
<g stroke="#aeb0c8" stroke-width="1.1" fill="none"><path d="M560,568.5 L573,564.3 M560,573.1 L573,568.9 M560,577.7 L573,573.5 M560,582.3 L573,578.1 M560,586.9 L573,582.7 M560,591.5 L573,587.3 M560,596.1 L573,591.9 M560,600.7 L573,596.5 M560,605.3 L573,601.1 M560,609.9 L573,605.7 M560,614.5 L573,610.3"/></g>
<path d="M563,567 L563,617 M569,565 L569,615" stroke="#c8cadc" stroke-width="0.6"/>
<path d="M527.4,554.4 L540.4,549.8 L573.9,560 L559,565.6 Z" fill="#f8f4f4" stroke="#e0dada" stroke-width="0.6"/>
<path d="M527.4,606.5 L559,618.5 L573.9,613.9" fill="none" stroke="#c8c8c8" stroke-width="0.8"/>
<path d="M545.5,553.5 L555.3,553.5 L555.3,560 L545.5,560 Z" fill="#a8a8a8"/>
<path d="M550.2,500.6 L551,500.6 L551.6,526 L549.6,526 Z" fill="#c85a50"/>
<path d="M549.8,512 L551.2,512 L551.3,517 L549.7,517 Z" fill="#eee"/>
<path d="M546,527 L555.3,527 L555.3,531.5 L546,531.5 Z" fill="#d04a40"/>
<path d="M547.3,531.5 L545,556 M553.8,531.5 L556.2,556 M547,537 L554.5,544 L546,551 M554.2,537 L546.5,544 L555.5,551" fill="none" stroke="#c8463c" stroke-width="1.3"/>
<path d="M546.5,540.5 L555,540.5 M545.8,547.5 L555.8,547.5" stroke="#f0f0f0" stroke-width="1"/>
<path d="M612,541.5 L650.8,562.2 L650.8,570.6 L612,550.5 Z" fill="#8c8282" stroke="#b0b0b0" stroke-width="0.6"/>
<path d="M614,545.5 L649,564" stroke="#b84848" stroke-width="1.2" stroke-dasharray="3 1.5"/>
<path d="M598.4,544 L650.8,573.8 L650.8,596.4 L598.4,566.7 Z" fill="#e4e6ea" stroke="#a0a0a0" stroke-width="0.7"/>
<path d="M600,546.8 L649.2,574.8 L649.2,594 L600,566 Z" fill="url(#hqscr)"/>
<path d="M594,586.7 L603.5,580.5 L641,602 L641,614 L630,620.3 L630,608.5 Z" fill="#f2f2f2" stroke="#b8b8b8" stroke-width="0.6"/>
<path d="M594,586.7 L630,608.5 L641,602" fill="none" stroke="#c0c0c0" stroke-width="0.6"/>
<path d="M603.5,574 L641,596 L641,602 L603.5,580.5 Z" fill="#e8e8e8" stroke="#c8c8c8" stroke-width="0.5"/>
<path d="M604.3,579 L612.7,583.5 L612.7,590 L604.3,585.5 Z" fill="#5a90d0"/>
<path d="M614.6,585.5 L623.7,590.5 L623.7,597 L614.6,592 Z" fill="#5a90d0"/>
<path d="M625.6,592 L634.7,597 L634.7,603.5 L625.6,598.5 Z" fill="#9aa0a8"/>
<g fill="#7e7e7e">
<path d="M593,593 L600,597 L601,603 L594,599.5 Z"/><path d="M595,602 L601,604 L599,607 Z"/>
<path d="M604.5,600 L611.5,604 L612.5,610 L605.5,606.5 Z"/><path d="M606.5,609 L612.5,611 L610.5,614 Z"/>
<path d="M616.2,606 L623.2,610 L624.2,616 L617.2,612.5 Z"/><path d="M618.2,615 L624.2,617 L622.2,620 Z"/>
</g>

<g transform="translate(286.3,486.7) scale(1.0)" fill="none" stroke="#959595" stroke-width="1.9" stroke-linecap="square"><path d="M0.8,15 V1 H13.4 V13.6 Q13.4,14.6 11.8,14.4"/><path d="M3,4.8 L6.8,11.6 M6.6,4.8 L2.9,12.2 M7.4,4.8 L11.2,11.6 M11,4.8 L7.2,12.2" stroke-width="1.5"/></g><g transform="translate(304.6,487.6) scale(1.0)" fill="none" stroke="#959595" stroke-width="1.9"><path d="M0.8,0.8 H12.4 V12.4 H0.8 Z"/></g>
<g transform="translate(332,486.7) scale(1.0)" fill="none" stroke="#959595" stroke-width="1.9" stroke-linecap="square"><path d="M0.8,15 V1 H13.4 V13.6 Q13.4,14.6 11.8,14.4"/><path d="M3,4.8 L6.8,11.6 M6.6,4.8 L2.9,12.2 M7.4,4.8 L11.2,11.6 M11,4.8 L7.2,12.2" stroke-width="1.5"/></g><g transform="translate(350.3,487.6) scale(1.0)" fill="none" stroke="#959595" stroke-width="1.9"><path d="M0.8,0.8 H12.4 V12.4 H0.8 Z"/></g>

<g fill="none" stroke="#959595" stroke-width="1.8">
<path d="M389.6,488.6 V499 Q389.6,501.5 388.6,503 M389.6,488.6 H394.3 V502.5 L393,502.2 M389.8,492.8 H394.2 M389.8,496.8 H394.2"/>
<path d="M396.5,488.6 V503 M396.5,488.8 H403.2 V491.8 Q403,493 401.8,492.6 M397.3,495 H403 Q402,499.5 397.2,503 M398.5,496.5 Q400.5,501 404.5,503"/>
<path d="M410,487.2 Q408.5,490.5 405.8,492.3 M408.7,489.4 H417.8 Q413.5,494.5 406,496.2 M410.5,490.8 Q414,494.5 421,495.8 M407,497.6 H418.5 Q418.5,501 417.6,502.9 L416,502.6 M413,495.4 Q412.5,500 407,503.3"/>
<path d="M424.4,488.4 H429.7 V492.7 H424.4 Z M433.4,488.4 H438.8 V492.7 H433.4 Z M424.4,498.3 H429.7 V502.6 H424.4 Z M433.4,498.3 H438.8 V502.6 H433.4 Z"/>
<path d="M423.4,495.4 H440.2 M431.2,493.3 Q429,496.6 424.5,497.8 M432,495.6 Q435,497.6 439.5,498 M436.8,493.5 L437.8,494.5"/>
</g>

</svg>
</body></html>
